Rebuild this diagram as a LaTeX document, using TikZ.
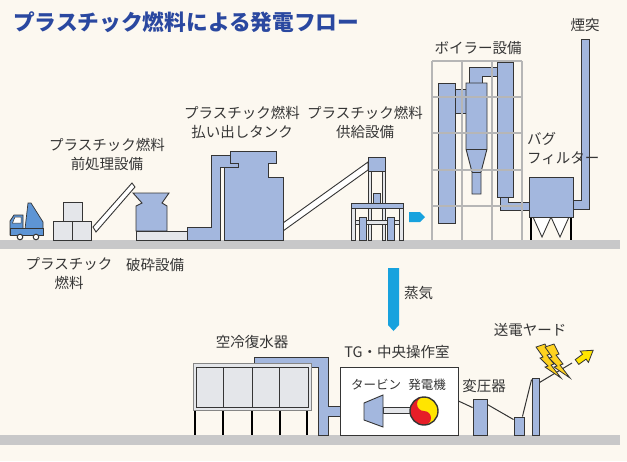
\documentclass[tikz,border=0pt]{standalone}
\usepackage{fontspec}
\setmainfont{Noto Sans CJK JP}
\definecolor{paper}{HTML}{FCF8F0}
\definecolor{plant}{HTML}{A3B7DE}
\definecolor{edge}{HTML}{353535}
\definecolor{ground}{HTML}{C8C8C9}
\definecolor{frame}{HTML}{B6B6B6}
\definecolor{panel}{HTML}{E4E6EA}
\definecolor{steam}{HTML}{17A2DE}
\definecolor{truck}{HTML}{5E95D5}
\definecolor{titleblue}{HTML}{2A48A0}
\definecolor{genred}{HTML}{E61E28}
\definecolor{genyellow}{HTML}{FFE500}
\definecolor{bolt}{HTML}{FFD21F}

\begin{document}
\begin{tikzpicture}[x=1pt,y=-1pt,
    every node/.style={font=\fontsize{14.5}{19}\selectfont,text=edge,inner sep=0pt,align=center},
    small/.style={font=\fontsize{12.5}{15}\selectfont},
    unit/.style={fill=plant,draw=edge,line width=0.9pt},
    light/.style={fill=panel,draw=edge,line width=0.9pt},
    rack/.style={draw=frame,line width=2.6pt},
    leg/.style={draw=black,line width=2.6pt},
    wire/.style={draw=edge,line width=1pt},
    bolt/.pic={\filldraw[fill=bolt,draw=edge,line width=0.8pt]
      (0,3) -- (9,0) -- (14,10) -- (11,11) -- (18,20) -- (15,21) -- (25,34)
      -- (9,23) -- (12,22) -- (4,14) -- (7,13) -- cycle;}]
  \fill[paper] (0,0) rectangle (627,461);
  \useasboundingbox (0,0) rectangle (627,461);

  \node[anchor=west,font=\fontsize{21.7}{24}\selectfont\bfseries,text=titleblue] (title) at (13,22)
    {プラスチック燃料による発電フロー};

  % ground lines
  \fill[ground] (0,240) rectangle (620,249);
  \fill[ground] (0,435) rectangle (620,445);

  % truck
  \filldraw[fill=truck,draw=edge,line width=0.7pt] (25,229) -- (28,203) -- (31,203) -- (43,222) -- (43,229) -- cycle;
  \filldraw[fill=truck,draw=edge,line width=0.7pt] (10,235) -- (10,221) -- (14,215) -- (23,215) -- (23,235) -- cycle;
  \filldraw[fill=white,draw=edge,line width=0.5pt] (15,217) -- (21,217) -- (21,223) -- (12.5,223) -- cycle;
  \filldraw[fill=truck,draw=edge,line width=0.7pt] (10,228) rectangle (43,235);
  \filldraw[fill=white,draw=edge,line width=1pt] (20,237) circle (2.8) (36,237) circle (2.8);

  % bales
  \draw[light] (63,202) rectangle (82,221);
  \draw[light] (53,221) rectangle (72,240);
  \draw[light] (72,221) rectangle (91,240);

  % pre-treatment conveyor and crusher
  \draw[light,fill=white] (93,227) -- (132,183) -- (135,187) -- (96,232) -- cycle;
  \draw[unit] (133,193) -- (169,193) -- (162,203) -- (167,206) -- (167,231) -- (136,231) -- (136,206) -- (142,203) -- cycle;
  \draw[light] (136,231) rectangle (188,240);

  % discharge tank
  \draw[unit] (187,227) -- (211,227) -- (211,155) -- (238,155) -- (238,167) -- (220,167) -- (220,240) -- (187,240) -- cycle;
  \draw[light,fill=white] (283,223) -- (368,162) -- (368,170) -- (283,231) -- cycle;
  \draw[unit] (230,151) -- (276,151) -- (276,163) -- (268,163) -- (268,177) -- (283,177) -- (283,240)
    -- (224,240) -- (224,167) -- (238,167) -- (238,163) -- (230,163) -- cycle;

  % feeder
  \draw[light] (368,171) rectangle (371,240);
  \draw[light] (382,171) rectangle (385,240);
  \draw[unit] (368,157) rectangle (385,171);
  \draw[unit] (373,193) rectangle (380,203);
  \draw[unit] (351,203) rectangle (403,208);
  \draw[light] (351,208) rectangle (355,240);
  \draw[light] (399,208) rectangle (403,240);
  \draw[light] (355,220) rectangle (399,224);
  \draw[unit] (359,217) rectangle (366,240);
  \draw[unit] (387,217) rectangle (394,240);
  \fill[steam] (409,212) -- (420,212) -- (425,217) -- (420,222) -- (409,222) -- cycle;

  % boiler
  \draw[unit] (438,83) rectangle (455,223);
  \draw[unit] (455,89) rectangle (466,113);
  \draw[unit] (469,67) -- (497,67) -- (497,76) -- (482,76) -- (482,83) -- (469,83) -- cycle;
  \draw[unit] (466,83) -- (487,83) -- (487,149) -- (481,172) -- (481,194) -- (472,194) -- (472,172) -- (466,149) -- cycle;
  \draw[edge,line width=0.9pt] (466,149) -- (487,149) (472,172) -- (481,172);
  \draw[unit] (497,62) rectangle (513,197);
  \draw[unit] (500,197) -- (508,197) -- (508,202) -- (530,202) -- (530,210) -- (500,210) -- cycle;
  \foreach \x in {432,462,492,522}
    \draw[rack] (\x,61) -- (\x,240);
  \foreach \y in {61,97,133,170,206}
    \draw[rack] (432,\y) -- (522,\y);

  % bag filter and stack
  \draw[unit] (581,39) -- (589,39) -- (589,209) -- (573,209) -- (573,200) -- (581,200) -- cycle;
  \draw[light,fill=white] (533,217) -- (551,217) -- (542,237) -- cycle;
  \draw[light,fill=white] (551,217) -- (569,217) -- (560,237) -- cycle;
  \draw[leg] (531,217) -- (531,240) (571,217) -- (571,240);
  \draw[unit] (529,177) rectangle (573,217);

  % labels, upper line
  \node (preLbl) at (107,154.5) {プラスチック燃料\\前処理設備};
  \node (fuelLbl) at (69,274) {プラスチック\\燃料};
  \node (crushLbl) at (155,265) {破砕設備};
  \node (tankLbl) at (242,122.5) {プラスチック燃料\\払い出しタンク};
  \node (feedLbl) at (365,122.5) {プラスチック燃料\\供給設備};
  \node (boilerLbl) at (478,48) {ボイラー設備};
  \node (stackLbl) at (585,25) {煙突};
  \node[anchor=west,align=left] (bagLbl) at (527,148) {バグ\\フィルター};

  % steam
  \fill[steam] (388,268) -- (399,268) -- (399,325) -- (393.5,331) -- (388,325) -- cycle;
  \node[anchor=west] (steamLbl) at (404,293) {蒸気};

  % air cooled condenser
  \draw[unit] (254,357) -- (328,357) -- (328,406) -- (340,406) -- (340,416) -- (328,416) -- (328,435)
    -- (318,435) -- (318,367) -- (254,367) -- cycle;
  \foreach \x in {195,223,252,280,307}
    \draw[leg] (\x,410) -- (\x,435);
  \draw[fill=panel,draw=edge!60,line width=0.8pt] (193,363) rectangle (311,410);
  \draw[light] (196,367) rectangle (308,407);
  \draw[edge,line width=0.9pt] (223,367) -- (223,407) (252,367) -- (252,407) (279,367) -- (279,407);
  \node (condLbl) at (252,342) {空冷復水器};

  % turbine house
  \node[draw=edge,fill=white,line width=0.9pt,minimum width=118pt,minimum height=68pt] (house) at (399,401) {};
  \node (tgLbl) at (397,352) {TG・中央操作室};
  \node[small] (turbLbl) at (376,385) {タービン};
  \node[small] (genLbl) at (427,385) {発電機};
  \draw[light] (383,407) rectangle (412,413);
  \draw[unit] (364,403) -- (383,395) -- (383,427) -- (364,420) -- cycle;
  \begin{scope}[shift={(424,411)},y=1pt]
    \fill[genyellow] (0,0) circle (14);
    \fill[genred] (0,14) arc (90:270:14) arc (-90:90:7) arc (270:90:7) -- cycle;
    \draw[edge,line width=1.4pt] (0,0) circle (14);
  \end{scope}

  % switchyard
  \node[unit,minimum width=14pt,minimum height=36pt] (xfmr) at (480,417) {};
  \node[unit,minimum width=10pt,minimum height=18pt] (poleA) at (519,426) {};
  \node[unit,minimum width=7pt,minimum height=57pt] (poleB) at (535.5,406.5) {};
  \coordinate (lineEnd) at (572,363);
  \node (xfmrLbl) at (484,386) {変圧器};
  \node (yardLbl) at (530,330) {送電ヤード};
  \draw[wire] (house.east) -- ([yshift=-9pt]xfmr.north west);
  \draw[wire] ([yshift=-6pt]xfmr.north east) -- ([yshift=-3pt]poleA.north west);
  \draw[wire] ([xshift=-2pt]poleA.north east) -- ([yshift=-2pt]poleB.north west);
  \draw[wire] ([yshift=-5pt]poleB.north east) -- (lineEnd);
  \pic at (536,344) {bolt};
  \pic at (545,344) {bolt};
  \filldraw[fill=genyellow,draw=edge,line width=0.8pt,rotate around={36:(577,362)}]
    (577,359) -- (586,359) -- (586,355) -- (597,362) -- (586,369) -- (586,365) -- (577,365) -- cycle;
\end{tikzpicture}
\end{document}
